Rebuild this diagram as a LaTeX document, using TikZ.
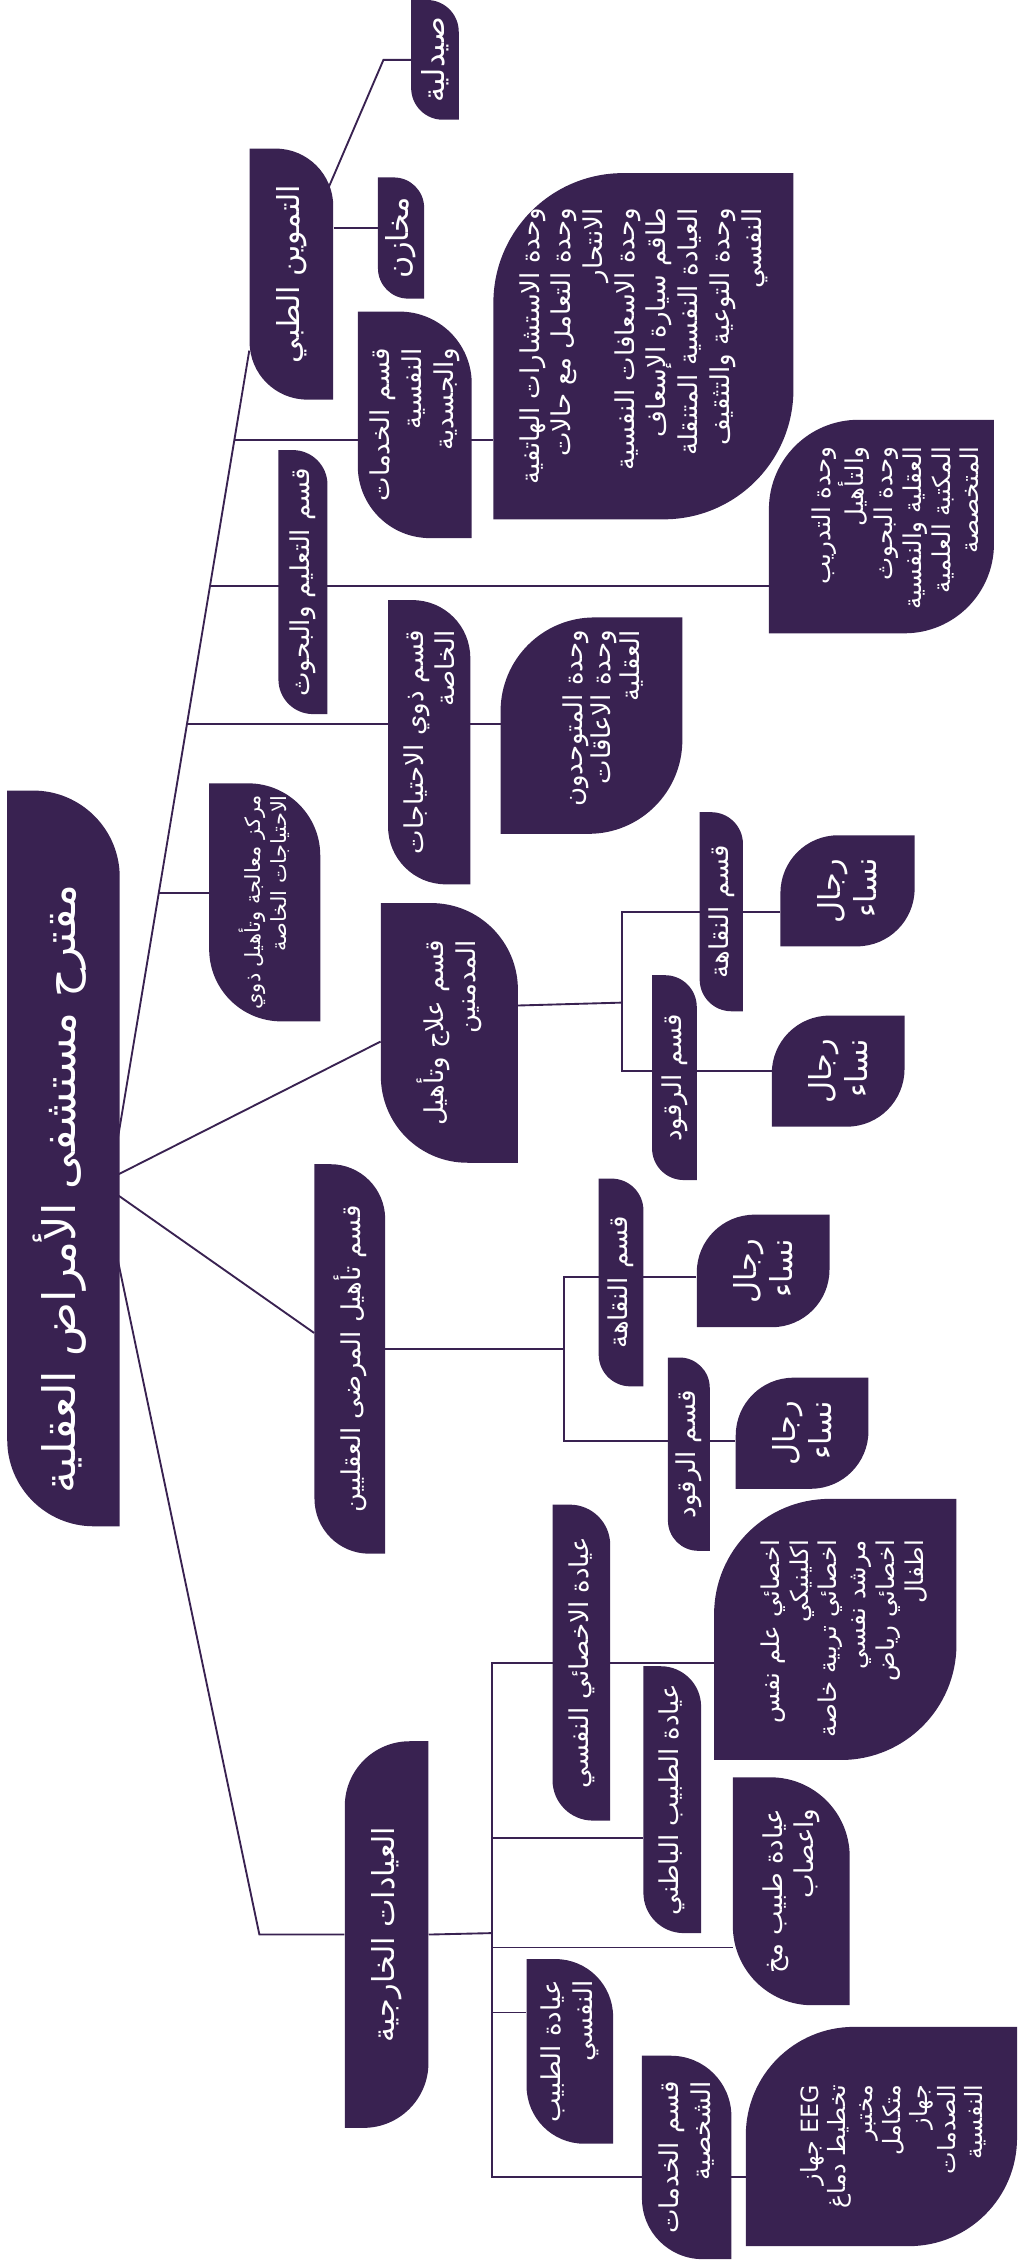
\documentclass[tikz,border=0pt]{standalone}
\usepackage{fontspec}
\newfontfamily\arabicfont[Script=Arabic]{DejaVu Sans}
\TeXXeTstate=1
\usetikzlibrary{calc}
\definecolor{hosp}{RGB}{57,34,81}
\pgfdeclarelayer{background}
\pgfsetlayers{background,main}
\newcommand{\ar}[1]{\beginR #1\endR}
% leaf boxes round two opposite corners: A top right + bottom left, B top left + bottom right
% #1 centre, #2 width, #3 height, #4 radius
\newcommand{\leafA}[4]{%
  \fill[hosp] let \p1=#1 in
    ({\x1-#2pt/2},{\y1+#3pt/2}) -- ({\x1+#2pt/2-#4pt},{\y1+#3pt/2})
    arc[start angle=90, end angle=0, radius=#4pt]
    -- ({\x1+#2pt/2},{\y1-#3pt/2}) -- ({\x1-#2pt/2+#4pt},{\y1-#3pt/2})
    arc[start angle=270, end angle=180, radius=#4pt] -- cycle;}
\newcommand{\leafB}[4]{%
  \fill[hosp] let \p1=#1 in
    ({\x1-#2pt/2},{\y1+#3pt/2-#4pt}) arc[start angle=180, end angle=90, radius=#4pt]
    -- ({\x1+#2pt/2},{\y1+#3pt/2}) -- ({\x1+#2pt/2},{\y1-#3pt/2+#4pt})
    arc[start angle=0, end angle=-90, radius=#4pt]
    -- ({\x1-#2pt/2},{\y1-#3pt/2}) -- cycle;}

\begin{document}
\begin{tikzpicture}[
        x=1pt,
        y=-1pt,
        unit/.style={rotate=90, inner sep=0pt, text=white, align=right,
            font=\arabicfont\fontsize{18}{22}\selectfont},
        big/.style={font=\arabicfont\fontsize{31}{36}\selectfont},
        mid/.style={font=\arabicfont\fontsize{21}{25}\selectfont},
        small/.style={font=\arabicfont\fontsize{14.5}{18}\selectfont},
        tight/.style={font=\arabicfont\fontsize{17}{20}\selectfont},
        boxdim/.style 2 args={minimum height=#1, minimum width=#2},
        link/.style={draw=hosp, line width=1.3pt}
    ]
    \useasboundingbox (0,0) rectangle (705,1568);

    % root and first level
    \node[unit, big, boxdim={74pt}{470pt}] (root) at (41,824) {\ar{مقترح مستشفى الأمراض العقلية}};
    \node[unit, mid, boxdim={58pt}{174pt}] (tamwin) at (202,190) {\ar{التموين الطبي}};
    \node[unit, mid, boxdim={33pt}{83pt}] (saydaliya) at (301.5,41.5) {\ar{صيدلية}};
    \node[unit, mid, boxdim={32pt}{84pt}] (makhazin) at (278,165) {\ar{مخازن}};
    \node[unit, boxdim={79pt}{157pt}] (khadamat) at (287.5,294.5) {\ar{قسم الخدمات}\\\ar{النفسية}\\\ar{والجسدية}};
    \node[unit, boxdim={208pt}{240pt}] (units) at (446,240) {\ar{وحدة الاستشارات الهاتفية}\\\ar{وحدة التعامل مع حالات}\\\ar{الانتحار}\\\ar{وحدة الاسعافات النفسية}\\\ar{طاقم سيارة الإسعاف}\\\ar{العيادة النفسية المتنقلة}\\\ar{وحدة التوعية والتثقيف}\\\ar{النفسي}};
    \node[unit, boxdim={34pt}{183pt}] (taalim) at (210,403.5) {\ar{قسم التعليم والبحوث}};
    \node[unit, tight, boxdim={146pt}{148pt}] (tadrib) at (621,366) {\ar{وحدة التدريب}\\\ar{والتأهيل}\\\ar{وحدة البحوث}\\\ar{العقلية والنفسية}\\\ar{المكتبة العلمية}\\\ar{المتخصصة}};
    \node[unit, boxdim={57pt}{197pt}] (thawi) at (297.5,514.5) {\ar{قسم ذوي الاحتياجات}\\\ar{الخاصة}};
    \node[unit, font=\arabicfont\fontsize{18}{20}\selectfont, boxdim={118pt}{150pt}] (mutawahhid) at (418,498) {\ar{وحدة المتوحدون}\\\ar{وحدة الاعاقات}\\\ar{العقلية}};
    \node[unit, small, boxdim={77pt}{165pt}] (markaz) at (183.5,625.5) {\ar{مركز معالجة وتأهيل ذوي}\\\ar{الاحتياجات الخاصة}};

    % addiction
    \node[unit, boxdim={95pt}{180pt}] (idman) at (311.5,716) {\ar{قسم علاج وتأهيل}\\\ar{المدمنين}};
    \node[unit, boxdim={30pt}{138pt}] (naqaha1) at (500,632) {\ar{قسم النقاهة}};
    \node[unit, boxdim={31pt}{142pt}] (ruqud1) at (467.5,747) {\ar{قسم الرقود}};
    \node[unit, mid, boxdim={93pt}{77pt}] (rijal1) at (587.5,617.5) {\ar{رجال}\\\ar{نساء}};
    \node[unit, mid, boxdim={92pt}{77pt}] (rijal2) at (581,742.5) {\ar{رجال}\\\ar{نساء}};

    % mental patients
    \node[unit, boxdim={49pt}{270pt}] (aqliyin) at (242.5,942) {\ar{قسم تأهيل المرضى العقليين}};
    \node[unit, boxdim={31pt}{144pt}] (naqaha2) at (430.5,889) {\ar{قسم النقاهة}};
    \node[unit, boxdim={29pt}{134pt}] (ruqud2) at (477.5,1008) {\ar{قسم الرقود}};
    \node[unit, mid, boxdim={92pt}{78pt}] (rijal3) at (529,881) {\ar{رجال}\\\ar{نساء}};
    \node[unit, mid, boxdim={92pt}{77pt}] (rijal4) at (556,993.5) {\ar{رجال}\\\ar{نساء}};

    % clinics
    \node[unit, mid, boxdim={58pt}{268pt}] (iyadat) at (268,1341) {\ar{العيادات الخارجية}};
    \node[unit, boxdim={40pt}{219pt}] (akhsai) at (403,1152.5) {\ar{عيادة الاخصائي النفسي}};
    \node[unit, tight, boxdim={156pt}{181pt}] (staff) at (585,1136) {\ar{اخصائي علم نفس}\\\ar{اكلينيكي}\\\ar{اخصائي تربية خاصة}\\\ar{مرشد نفسي}\\\ar{اخصائي رياض}\\\ar{اطفال}};
    \node[unit, boxdim={40pt}{185pt}] (batini) at (466,1247.5) {\ar{عيادة الطبيب الباطني}};
    \node[unit, boxdim={81pt}{158pt}] (mukh) at (548.5,1311) {\ar{عيادة طبيب مخ}\\\ar{واعصاب}};
    \node[unit, boxdim={60pt}{128pt}] (tabib) at (395,1422) {\ar{عيادة الطبيب}\\\ar{النفسي}};
    \node[unit, boxdim={62pt}{141pt}] (shakhsiya) at (476,1495.5) {\ar{قسم الخدمات}\\\ar{الشخصية}};
    \node[unit, font=\arabicfont\fontsize{16.5}{19}\selectfont, boxdim={172pt}{152pt}] (eeg) at (619,1488) {\ar{\beginL EEG\endL{} جهاز}\\\ar{تخطيط دماغ}\\\ar{مختبر}\\\ar{متكامل}\\\ar{جهاز}\\\ar{الصدمات}\\\ar{النفسية}};

    \coordinate (fork1) at (431,695);
    \coordinate (fork2) at (391,935);
    \coordinate (fork3) at (341,1340);

    \begin{pgfonlayer}{background}
        % trunk to the upper departments
        \draw[link] (root.south |- 0,810) -- (tamwin.north |- 0,243)
            coordinate[pos=0.337] (b10) coordinate[pos=0.543] (b9)
            coordinate[pos=0.7125] (b7) coordinate[pos=0.891] (b5);
        \draw[link] (tamwin.center) -- ([xshift=-19pt]saydaliya.north) -- (saydaliya.north);
        \draw[link] (tamwin.south |- 0,158) -- (makhazin.north |- 0,158);
        \draw[link] (b5) -- (b5 -| units.north);
        \draw[link] (b7) -- (b7 -| tadrib.north);
        \draw[link] (b9) -- (b9 -| mutawahhid.north);
        \draw[link] (b10) -- (b10 -| markaz.north);
        % addiction
        \draw[link] (root.south |- 0,816) -- (idman.north |- 0,722);
        \draw[link] (idman.south |- 0,697) -- (fork1);
        \draw[link] (rijal1.north |- naqaha1) -| (fork1) |- (rijal2.north);
        % mental patients
        \draw[link] (root.south |- 0,826) -- (aqliyin.north |- 0,924);
        \draw[link] (aqliyin.south |- 0,935) -- (fork2);
        \draw[link] (rijal3.north |- 0,885) -| (fork2) |- (rijal4.north |- 0,999);
        % clinics
        \draw[link] (root.south |- 0,857) -- ([xshift=-59pt]iyadat.north) -- (iyadat.north);
        \draw[link] (iyadat.south) -- (fork3);
        \draw[link] (staff.north |- akhsai) -| (fork3) |- (eeg.north |- 0,1509);
        \draw[link] (fork3 |- 0,1274) -- (batini.north |- 0,1274);
        \draw[link] (fork3 |- 0,1350) -- (mukh.north |- 0,1350);
        \draw[link] (fork3 |- 0,1395) -- (tabib.north |- 0,1395);

        % boxes
        \leafA{(44,803)}{78}{510}{60}
        \leafA{(tamwin)}{58}{174}{40}
        \leafA{(saydaliya)}{33}{83}{22}
        \leafA{(makhazin)}{32}{84}{21}
        \leafA{(khadamat)}{79}{157}{50}
        \leafB{(units)}{208}{240}{90}
        \leafA{(taalim)}{34}{183}{24}
        \leafB{(611,365)}{156}{148}{62}
        \leafA{(thawi)}{57}{197}{40}
        \leafB{(410,503)}{126}{150}{65}
        \leafA{(markaz)}{77}{165}{50}
        \leafA{(idman)}{95}{180}{60}
        \leafA{(naqaha1)}{30}{138}{22}
        \leafA{(ruqud1)}{31}{142}{22}
        \leafB{(rijal1)}{93}{77}{40}
        \leafB{(rijal2)}{92}{77}{40}
        \leafA{(aqliyin)}{49}{270}{38}
        \leafA{(naqaha2)}{31}{144}{22}
        \leafA{(ruqud2)}{29}{134}{21}
        \leafB{(rijal3)}{92}{78}{40}
        \leafB{(rijal4)}{92}{77}{40}
        \leafB{(iyadat)}{58}{268}{45}
        \leafA{(akhsai)}{40}{219}{28}
        \leafB{(579,1129.5)}{168}{181}{80}
        \leafA{(batini)}{40}{185}{28}
        \leafA{(mukh)}{81}{158}{55}
        \leafA{(tabib)}{60}{128}{40}
        \leafA{(shakhsiya)}{62}{141}{42}
        \leafB{(611,1481)}{188}{152}{75}
    \end{pgfonlayer}
\end{tikzpicture}
\end{document}
